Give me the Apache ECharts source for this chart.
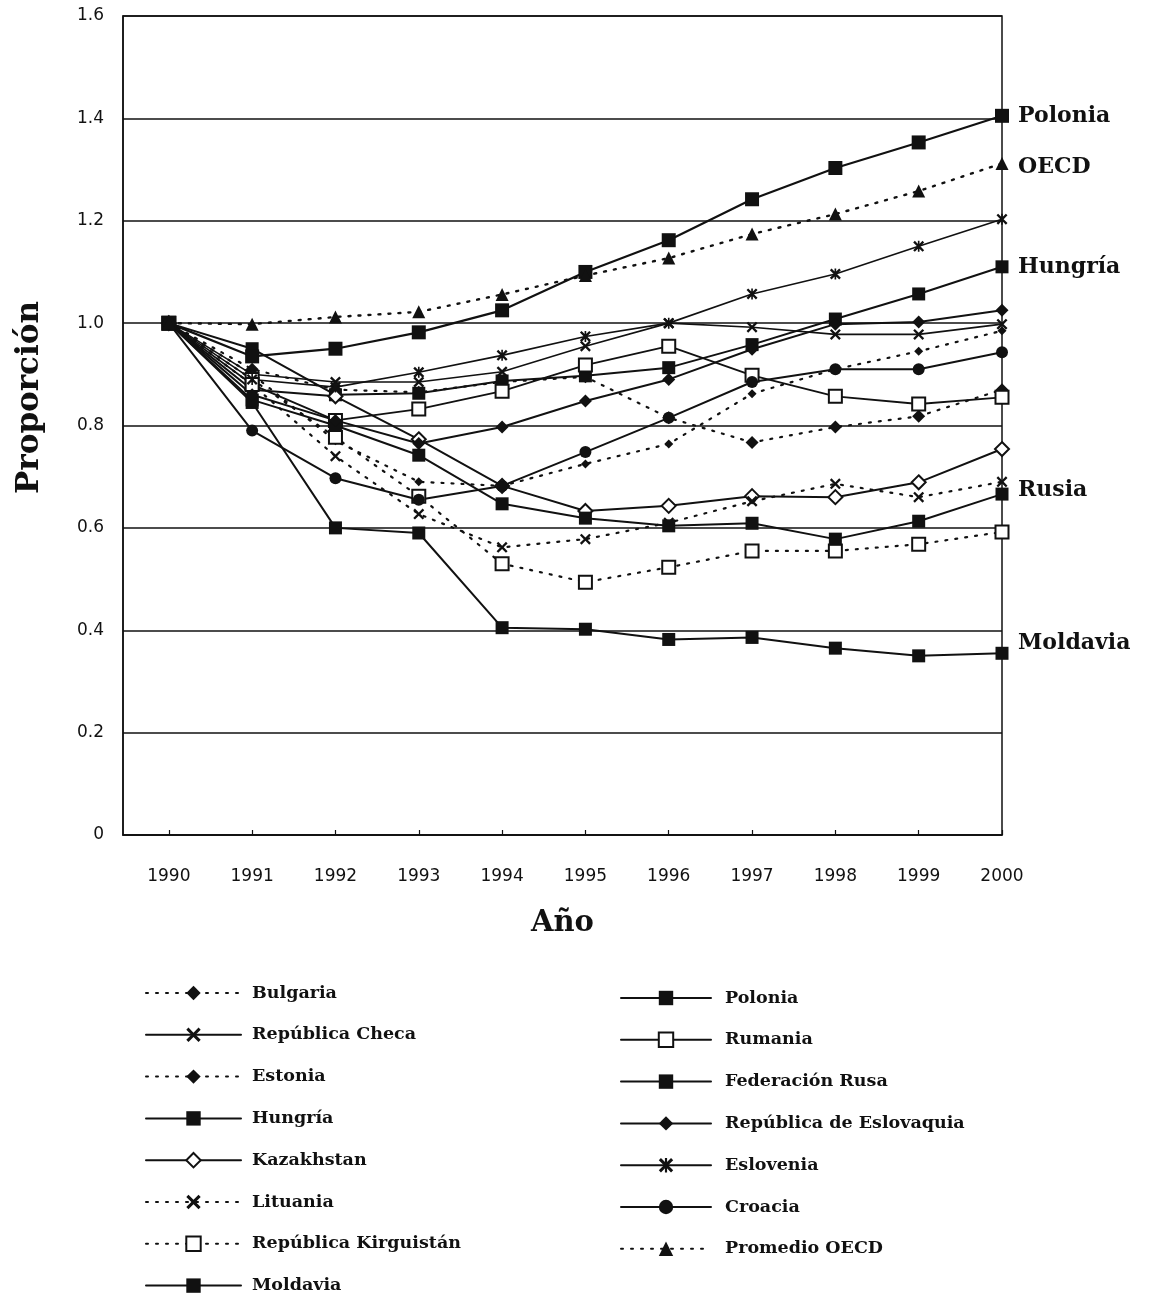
<!DOCTYPE html>
<html><head><meta charset="utf-8">
<script src="https://cdn.jsdelivr.net/npm/echarts@6/dist/echarts.min.js"></script>
<style>html,body{margin:0;padding:0;background:#fff}#c{width:1160px;height:1299px}</style>
</head><body><div id="c"></div>
<script>
// ---- data ----
const years = [1990, 1991, 1992, 1993, 1994, 1995, 1996, 1997, 1998, 1999, 2000];
const yTickValues = [0, 0.2, 0.4, 0.6, 0.8, 1.0, 1.2, 1.4, 1.6];

const bulgaria   = [1.0, 0.91, 0.87, 0.865, 0.885, 0.895, 0.815, 0.767, 0.797, 0.818, 0.87];
const checa      = [1.0, 0.90, 0.885, 0.885, 0.905, 0.955, 1.0, 0.992, 0.978, 0.978, 0.998];
const estonia    = [1.0, 0.90, 0.77, 0.69, 0.682, 0.725, 0.764, 0.862, 0.91, 0.945, 0.985];
const hungria    = [1.0, 0.95, 0.86, 0.863, 0.887, 0.897, 0.913, 0.958, 1.008, 1.057, 1.11];
const kazakhstan = [1.0, 0.87, 0.857, 0.773, 0.682, 0.633, 0.643, 0.662, 0.66, 0.689, 0.754];
const lituania   = [1.0, 0.88, 0.74, 0.627, 0.562, 0.578, 0.61, 0.652, 0.686, 0.66, 0.69];
const kirguistan = [1.0, 0.89, 0.777, 0.662, 0.53, 0.494, 0.523, 0.555, 0.555, 0.568, 0.592];
const moldavia   = [1.0, 0.845, 0.60, 0.59, 0.405, 0.402, 0.382, 0.386, 0.365, 0.35, 0.355];
const polonia    = [1.0, 0.935, 0.95, 0.982, 1.025, 1.10, 1.162, 1.242, 1.303, 1.353, 1.405];
const rumania    = [1.0, 0.88, 0.81, 0.832, 0.867, 0.918, 0.955, 0.898, 0.857, 0.842, 0.855];
const rusia      = [1.0, 0.85, 0.80, 0.742, 0.647, 0.619, 0.604, 0.609, 0.578, 0.613, 0.666];
const eslovaquia = [1.0, 0.86, 0.81, 0.765, 0.797, 0.848, 0.89, 0.949, 0.998, 1.002, 1.025];
const eslovenia  = [1.0, 0.89, 0.875, 0.904, 0.937, 0.974, 1.0, 1.057, 1.096, 1.15, 1.203];
const croacia    = [1.0, 0.79, 0.697, 0.655, 0.682, 0.748, 0.815, 0.885, 0.91, 0.91, 0.943];
const oecd       = [1.0, 0.998, 1.012, 1.022, 1.056, 1.093, 1.127, 1.174, 1.213, 1.258, 1.312];

const legendLeft  = ['Bulgaria', 'República Checa', 'Estonia', 'Hungría', 'Kazakhstan', 'Lituania', 'República Kirguistán', 'Moldavia'];
const legendRight = ['Polonia', 'Rumania', 'Federación Rusa', 'República de Eslovaquia', 'Eslovenia', 'Croacia', 'Promedio OECD'];

// ---- styling ----
const INK = '#111';
const SERIF = '"DejaVu Serif", "Liberation Serif", serif';
const SANS = '"DejaVu Sans", "Liberation Sans", sans-serif';
const X_PATH = 'path://M0,1.5L1.5,0L5,3.5L8.5,0L10,1.5L6.5,5L10,8.5L8.5,10L5,6.5L1.5,10L0,8.5L3.5,5Z';
const AST_PATH = 'path://M0,1.5L1.5,0L5,3.5L8.5,0L10,1.5L6.5,5L10,8.5L8.5,10L5,6.5L1.5,10L0,8.5L3.5,5Z M4.25,0L5.75,0L5.75,10L4.25,10Z';
const DOT = [2, 8];

function mk(name, values, symbol, size, dotted, width, endLab) {
  const s = {
    name: name,
    type: 'line',
    data: years.map((y, i) => [y, values[i]]),
    symbol: symbol,
    symbolSize: size,
    showSymbol: true,
    clip: false,
    lineStyle: { color: INK, width: width, type: dotted ? DOT : 'solid', cap: 'round' },
    itemStyle: { color: INK, borderColor: INK, borderWidth: symbol.indexOf('empty') === 0 ? 1.6 : 0 },
    emphasis: { disabled: true },
    animation: false
  };
  if (endLab) {
    s.endLabel = {
      show: true, formatter: endLab[0], distance: 16, offset: [0, endLab[1]],
      fontFamily: SERIF, fontWeight: 'bold', fontSize: 22, color: INK
    };
  }
  return s;
}

const series = [
  mk('Bulgaria', bulgaria, 'diamond', 13, true, 2.2),
  mk('República Checa', checa, X_PATH, 11, false, 1.6),
  mk('Estonia', estonia, 'diamond', 9, true, 2.2),
  mk('Hungría', hungria, 'rect', 13, false, 2, ['Hungría', 0]),
  mk('Kazakhstan', kazakhstan, 'emptyDiamond', 14, false, 2),
  mk('Lituania', lituania, X_PATH, 11, true, 2.2),
  mk('República Kirguistán', kirguistan, 'emptyRect', 13, true, 2.2),
  mk('Moldavia', moldavia, 'rect', 13, false, 2, ['Moldavia', -10]),
  mk('Polonia', polonia, 'rect', 14, false, 2.2, ['Polonia', 0]),
  mk('Rumania', rumania, 'emptyRect', 13, false, 1.8),
  mk('Federación Rusa', rusia, 'rect', 13, false, 2, ['Rusia', -4]),
  mk('República de Eslovaquia', eslovaquia, 'diamond', 13, false, 2),
  mk('Eslovenia', eslovenia, AST_PATH, 11, false, 1.6),
  mk('Croacia', croacia, 'circle', 12, false, 2),
  mk('Promedio OECD', oecd, 'triangle', 13, true, 2.4, ['OECD', 4])
];

const legendCommon = {
  orient: 'vertical', itemHeight: 18, itemGap: 23.8, padding: 0, height: 312,
  selectedMode: false, inactiveColor: INK
};
const legendText = (pad) => ({ fontFamily: SERIF, fontWeight: 'bold', fontSize: 17.5, color: INK, padding: [0, 0, 0, pad] });

const option = {
  backgroundColor: '#fff',
  animation: false,
  grid: { left: 123, right: 158, top: 16, bottom: 464, show: true, borderColor: INK, borderWidth: 1.5, backgroundColor: 'transparent' },
  xAxis: {
    type: 'value', min: 1989.45, max: 2000,
    name: 'Año', nameLocation: 'middle', nameGap: 74,
    nameTextStyle: { fontFamily: SERIF, fontWeight: 'bold', fontSize: 29, color: INK },
    axisLine: { show: true, lineStyle: { color: INK, width: 1.5 } },
    axisTick: { show: true, customValues: years, length: 5, inside: true, lineStyle: { color: INK, width: 1.2 } },
    axisLabel: { customValues: years, margin: 33, fontFamily: SANS, fontSize: 17, color: INK, formatter: v => String(v) },
    splitLine: { show: false }
  },
  yAxis: {
    type: 'value', min: 0, max: 1.6, interval: 0.2,
    name: 'Proporción', nameLocation: 'middle', nameGap: 78, nameRotate: 90,
    nameTextStyle: { fontFamily: SERIF, fontWeight: 'bold', fontSize: 31, color: INK, padding: [0, 0, 0, 56] },
    axisLine: { show: true, lineStyle: { color: INK, width: 1.5 } },
    axisTick: { show: false },
    axisLabel: { margin: 19, fontFamily: SANS, fontSize: 17, color: INK,
      formatter: v => (Math.abs(v) < 1e-9 ? '0' : v.toFixed(1)) },
    splitLine: { show: true, lineStyle: { color: INK, width: 1.5 } }
  },
  legend: [
    Object.assign({}, legendCommon, { data: legendLeft, left: 145, top: 984, itemWidth: 95, textStyle: legendText(6) }),
    Object.assign({}, legendCommon, { data: legendRight, left: 620, top: 989, itemWidth: 90, textStyle: legendText(9) })
  ],
  series: series
};

const chart = echarts.init(document.getElementById('c'), null, { renderer: 'canvas' });
chart.setOption(option);
</script>
</body></html>
